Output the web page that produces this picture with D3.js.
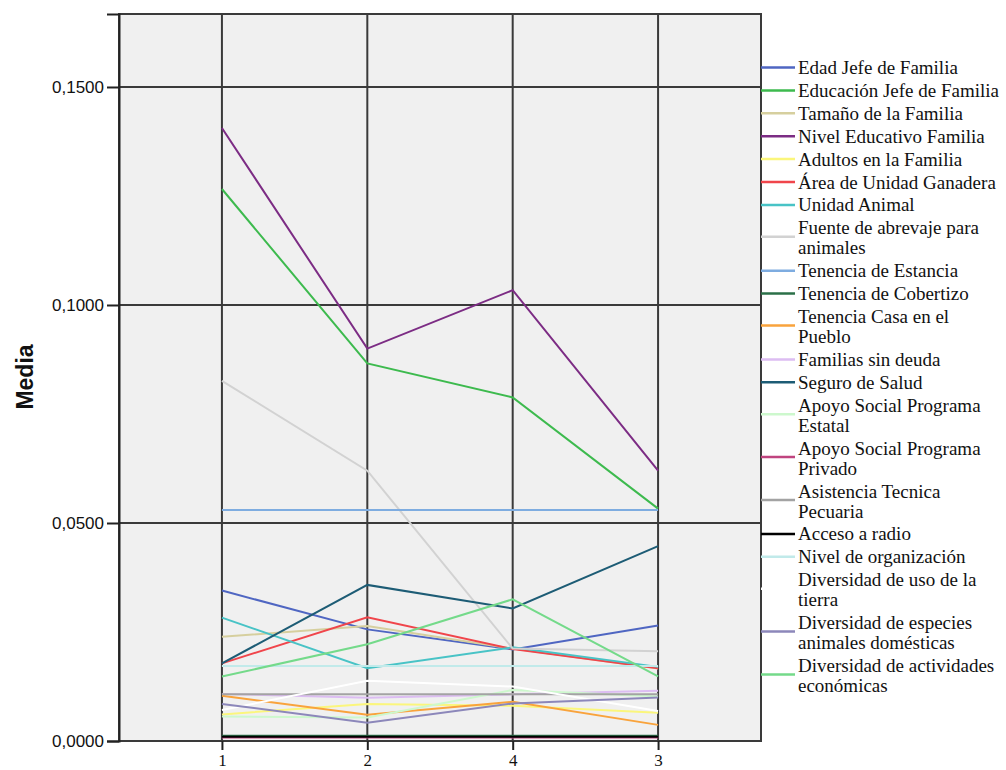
<!DOCTYPE html>
<html><head><meta charset="utf-8">
<script src="https://cdn.jsdelivr.net/npm/d3@7"></script>
<style>
html,body{margin:0;padding:0;background:#fff;}
svg{display:block;}
</style></head>
<body>
<svg id="chart" width="1006" height="770"></svg>
<script>
const categories = ["1", "2", "4", "3"];
const yTicks = [0, 0.05, 0.10, 0.15];
const seriesNames = [
  "Edad Jefe de Familia",
  "Educación Jefe de Familia",
  "Tamaño de la Familia",
  "Nivel Educativo Familia",
  "Adultos en la Familia",
  "Área de Unidad Ganadera",
  "Unidad Animal",
  "Fuente de abrevaje para\nanimales",
  "Tenencia de Estancia",
  "Tenencia de Cobertizo",
  "Tenencia Casa en el\nPueblo",
  "Familias sin deuda",
  "Seguro de Salud",
  "Apoyo Social Programa\nEstatal",
  "Apoyo Social Programa\nPrivado",
  "Asistencia Tecnica\nPecuaria",
  "Acceso a radio",
  "Nivel de organización",
  "Diversidad de uso de la\ntierra",
  "Diversidad de especies\nanimales domésticas",
  "Diversidad de actividades\neconómicas"
];
const seriesValues = [
  [0.0345, 0.0256, 0.0210, 0.0265],
  [0.1266, 0.0866, 0.0788, 0.0533],
  [0.0239, 0.0264, 0.0212, 0.0166],
  [0.1406, 0.0900, 0.1034, 0.0620],
  [0.0061, 0.0085, 0.0081, 0.0065],
  [0.0178, 0.0284, 0.0211, 0.0167],
  [0.0283, 0.0167, 0.0215, 0.0170],
  [0.0826, 0.0620, 0.0212, 0.0206],
  [0.0530, 0.0530, 0.0530, 0.0530],
  [0.0012, 0.0012, 0.0012, 0.0012],
  [0.0104, 0.0060, 0.0090, 0.0037],
  [0.0108, 0.0099, 0.0107, 0.0115],
  [0.0178, 0.0358, 0.0304, 0.0447],
  [0.0056, 0.0054, 0.0117, 0.0102],
  [0.0008, 0.0008, 0.0008, 0.0008],
  [0.0107, 0.0107, 0.0107, 0.0107],
  [0.0010, 0.0010, 0.0010, 0.0010],
  [0.0172, 0.0172, 0.0172, 0.0172],
  [0.0071, 0.0138, 0.0125, 0.0069],
  [0.0085, 0.0042, 0.0086, 0.0100],
  [0.0148, 0.0222, 0.0325, 0.0148]
];
const seriesColors = [
  "#4f66c2", "#3dba4e", "#d6cf9e", "#7c2c84", "#fbf67c", "#f0454b", "#48c3c6",
  "#d2d2d2", "#7eace0", "#2b7048", "#f9a33c", "#dcbdf2", "#1d5c75", "#cdf8cd",
  "#c0447f", "#a3a3a3", "#000000", "#c1eaea", "#ffffff", "#8c87ba", "#74da8a"
];

const svg = d3.select("#chart");
const L = 119, R = 761, T = 14, B = 741;

const x = d3.scalePoint().domain(categories).range([L, R]).padding(0.708);
const y = d3.scaleLinear().domain([0, 0.16674]).range([B, T]);

// plot background
svg.append("rect").attr("x", L).attr("y", T).attr("width", R - L).attr("height", B - T)
  .attr("fill", "#f0f0f0");

// gridlines
const grid = svg.append("g");
grid.selectAll("line.h").data(yTicks.filter(d => d > 0)).join("line")
  .attr("x1", L).attr("x2", R).attr("y1", d => y(d)).attr("y2", d => y(d))
  .attr("stroke", "#3a3a3a").attr("stroke-width", 2);
grid.selectAll("line.v").data(categories).join("line")
  .attr("y1", T).attr("y2", B).attr("x1", d => x(d)).attr("x2", d => x(d))
  .attr("stroke", "#3a3a3a").attr("stroke-width", 2);

// series lines
const line = d3.line().x((d, i) => x(categories[i])).y(d => y(d));
svg.append("g").selectAll("path").data(seriesValues).join("path")
  .attr("d", d => line(d))
  .attr("fill", "none")
  .attr("stroke", (d, i) => seriesColors[i])
  .attr("stroke-width", 2);

// frame
svg.append("rect").attr("x", L).attr("y", T).attr("width", R - L).attr("height", B - T)
  .attr("fill", "none").attr("stroke", "#3a3a3a").attr("stroke-width", 2);

// y axis
const fmt = d => d3.format(".4f")(d).replace(".", ",");
const yAxis = svg.append("g").attr("transform", `translate(${L},0)`)
  .call(d3.axisLeft(y).tickValues(yTicks).tickFormat(fmt).tickSize(12).tickPadding(3));
yAxis.select(".domain").attr("stroke", "#222").attr("stroke-width", 2);
yAxis.selectAll(".tick line").attr("stroke", "#222").attr("stroke-width", 2);
yAxis.selectAll("text").attr("font-family", "Liberation Sans, Arial, sans-serif")
  .attr("font-size", 17).attr("fill", "#111");

// x axis
const xAxis = svg.append("g").attr("transform", `translate(0,${B})`)
  .call(d3.axisBottom(x).tickSize(9).tickPadding(4));
xAxis.select(".domain").remove();
xAxis.selectAll(".tick line").attr("stroke", "#222").attr("stroke-width", 2);
xAxis.selectAll("text").attr("font-family", "Liberation Serif, Times New Roman, serif")
  .attr("font-size", 17).attr("fill", "#111");

// y title
svg.append("text").attr("transform", "translate(33,377) rotate(-90)")
  .attr("text-anchor", "middle").attr("font-family", "Liberation Sans, Arial, sans-serif")
  .attr("font-weight", "bold").attr("font-size", 23).attr("fill", "#111").text("Media");

// legend
const lg = svg.append("g");
let cy = 67.5;
seriesNames.forEach((name, i) => {
  const lines = name.split("\n");
  const markY = lines.length > 1 ? cy + 9 : cy;
  lg.append("line").attr("x1", R).attr("x2", 795).attr("y1", markY).attr("y2", markY)
    .attr("stroke", seriesColors[i]).attr("stroke-width", 2.5);
  const t = lg.append("text").attr("font-family", "Liberation Serif, Times New Roman, serif")
    .attr("font-size", 19).attr("fill", "#111");
  lines.forEach((s, j) => {
    t.append("tspan").attr("x", 798).attr("y", cy + j * 20 + 6.5).text(s);
  });
  cy += (lines.length - 1) * 20 + 22.9;
});
</script>
</body></html>
